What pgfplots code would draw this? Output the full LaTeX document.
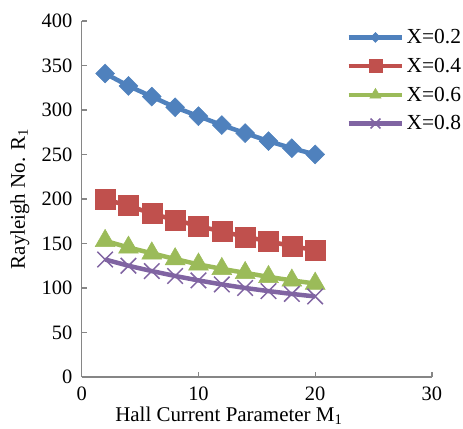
\documentclass[border=0pt]{standalone}
\usepackage{fontspec}
\setmainfont{Liberation Serif}
\usepackage{pgfplots}
\pgfplotsset{compat=1.18}

\definecolor{xblue}{HTML}{4F81BD}
\definecolor{xred}{HTML}{C0504D}
\definecolor{xgreen}{HTML}{9BBB59}
\definecolor{xpurple}{HTML}{8064A2}
\definecolor{axgrey}{HTML}{868686}

\newcommand{\tickfont}{\fontsize{20.5bp}{24bp}\selectfont}
\newcommand{\labfont}{\fontsize{21bp}{25bp}\selectfont}
\newcommand{\legfont}{\fontsize{21.5bp}{25bp}\selectfont}

\pgfplotsset{
    smallleg/.style={legend image code/.code={\draw[##1, mark repeat=2, mark phase=2, mark size=#1]
        plot coordinates {(0bp,0bp) (27bp,0bp) (54bp,0bp)};}},
}

\begin{document}
\begin{tikzpicture}
\begin{axis}[
    scale only axis,
    width=351bp, height=357bp,
    xmin=0, xmax=30, ymin=0, ymax=400,
    xtick={0,10,20,30},
    ytick={0,50,...,400},
    axis x line=bottom, axis y line=left,
    axis line style={axgrey, line width=1.3bp, -},
    tick style={axgrey, line width=1.3bp},
    tick align=inside,
    major tick length=5bp,
    ticklabel style={font=\tickfont},
    /pgf/number format/assume math mode=true,
    xticklabel shift=6bp,
    yticklabel shift=6bp,
    xlabel={Hall Current Parameter M\textsubscript{1}},
    ylabel={Rayleigh No. R\textsubscript{1}},
    label style={font=\labfont, inner sep=0pt},
    xlabel style={at={(axis description cs:0.42,-0.109)}, anchor=center},
    ylabel style={at={(axis description cs:-0.177,0.5)}, anchor=center},
    clip=false,
    legend style={at={(axis description cs:0.755,0.982)}, anchor=north west,
        draw=none, fill=none, font=\legfont, inner sep=0pt,
        row sep=9bp},
    legend cell align=left,
]
\coordinate (O) at (rel axis cs:0,0);

\addplot[xblue, line width=4.5bp, mark=diamond*, mark size=9.5bp,
    mark options={solid, xblue, line width=0.5bp, xscale=1.33}, smallleg=5bp]
coordinates {(2,341) (4,327) (6,315) (8,303) (10,293) (12,283) (14,274) (16,265) (18,257) (20,250)};
\addlegendentry{X=0.2}

\addplot[xred, line width=4.5bp, mark=square*, mark size=10bp,
    mark options={solid, xred, line width=0.5bp}, smallleg=6.5bp]
coordinates {(2,199.5) (4,192.5) (6,183.5) (8,176.5) (10,169.5) (12,163.5) (14,157.5) (16,152.5) (18,147) (20,142.5)};
\addlegendentry{X=0.4}

\addplot[xgreen, line width=4.5bp, mark=triangle*, mark size=11.5bp,
    mark options={solid, xgreen, line width=0.5bp}, smallleg=6.5bp]
coordinates {(2,153) (4,145.5) (6,139) (8,132.5) (10,126.5) (12,121.5) (14,117) (16,112.5) (18,108.5) (20,105)};
\addlegendentry{X=0.6}

\addplot[xpurple, line width=4.5bp, mark=x, mark size=11bp,
    mark options={solid, xpurple, line width=1.5bp}, smallleg=7bp]
coordinates {(2,132) (4,125) (6,119) (8,113.5) (10,108.5) (12,104) (14,100) (16,96.5) (18,93.3) (20,90.5)};
\addlegendentry{X=0.8}
\end{axis}
\path (O) ++(-82bp,-52bp) rectangle ++(463bp,430bp);
\end{tikzpicture}
\end{document}
